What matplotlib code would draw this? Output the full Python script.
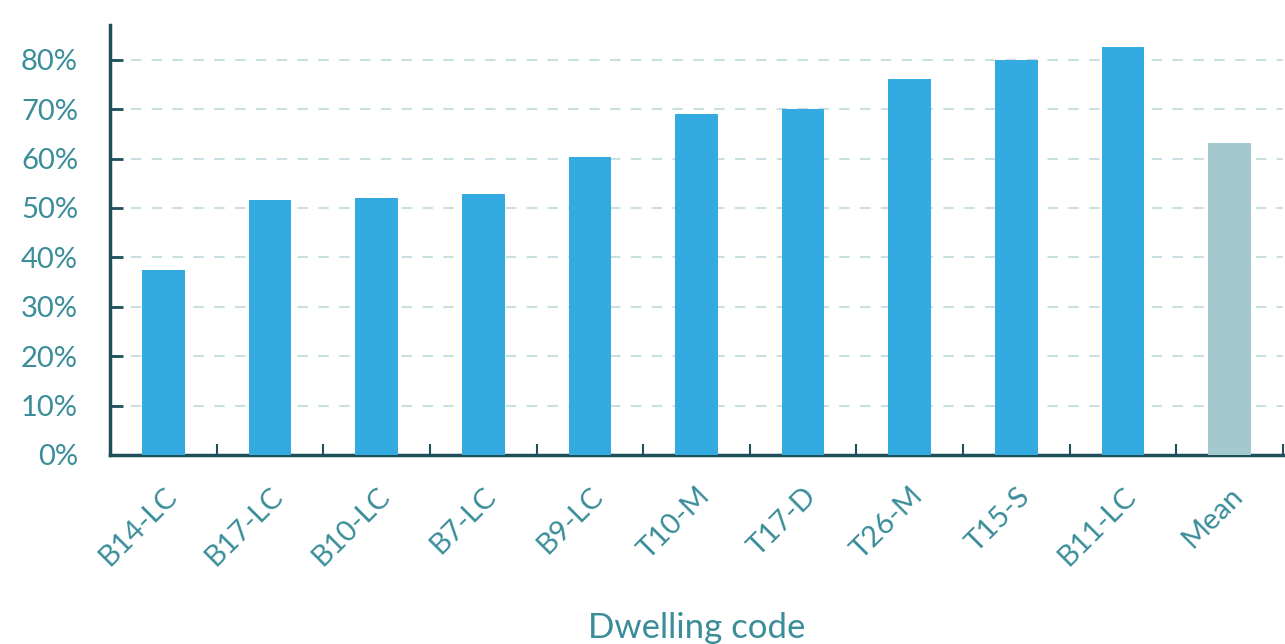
import matplotlib
matplotlib.use('Agg')
import matplotlib.pyplot as plt
from matplotlib.ticker import PercentFormatter, FixedLocator

codigos = ['B14-LC', 'B17-LC', 'B10-LC', 'B7-LC', 'B9-LC', 'T10-M',
           'T17-D', 'T26-M', 'T15-S', 'B11-LC', 'Mean']
valores = [37.4, 51.6, 52.1, 52.9, 60.4, 69.1, 70.1, 76.0, 80.0, 82.6, 63.2]

cor_barra = '#33aae0'
cor_media = '#a3c9ce'
cor_texto = '#3a8d99'
cor_eixo = '#1e4f5b'

plt.rcParams['font.family'] = ['Lato', 'DejaVu Sans']

fig = plt.figure(figsize=(12.85, 6.44), dpi=100)
ax = fig.add_axes([0.0856, 0.2935, 0.9128, 0.6675])

cores = [cor_media if c == 'Mean' else cor_barra for c in codigos]
x = list(range(len(codigos)))
ax.bar(x, valores, width=0.4, color=cores, zorder=3)

ax.set_xlim(-0.5, len(codigos) - 0.5)
ax.set_ylim(0, 87)
ax.set_yticks(range(0, 81, 10))
ax.yaxis.set_major_formatter(PercentFormatter(decimals=0))

# grade tracejada
ax.yaxis.grid(True, linestyle=(0, (5, 5)), color='#c9dfe2', linewidth=1.5, zorder=0)

# rótulos do eixo x nos centros, marcas nos limites entre categorias
ax.set_xticks(x)
ax.set_xticklabels(codigos, rotation=45, ha='right', rotation_mode='anchor')
ax.xaxis.set_minor_locator(FixedLocator([i + 0.5 for i in x]))
ax.tick_params(axis='x', which='major', length=0, pad=20, labelsize=21, labelcolor=cor_texto)
ax.tick_params(axis='x', which='minor', direction='in', length=8, width=1.5, color=cor_eixo)
ax.tick_params(axis='y', direction='in', length=9, width=2, color=cor_eixo,
               labelsize=21, labelcolor=cor_texto, pad=23)

for lado in ['top', 'right']:
    ax.spines[lado].set_visible(False)
for lado in ['left', 'bottom']:
    ax.spines[lado].set_color(cor_eixo)
    ax.spines[lado].set_linewidth(2.5)

ax.set_xlabel('Dwelling code', fontsize=25, color=cor_texto, labelpad=30)

plt.savefig('out.png', format='png')
